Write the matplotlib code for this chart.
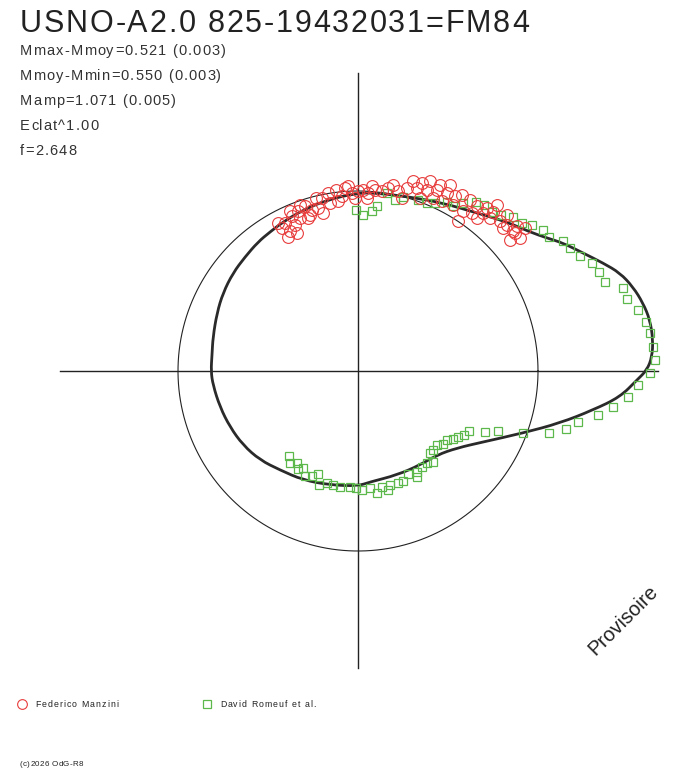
import matplotlib
matplotlib.use("Agg")
import matplotlib.pyplot as plt
import numpy as np
from matplotlib.path import Path
from matplotlib.patches import PathPatch
from matplotlib.font_manager import FontProperties, findfont, get_font

# ---- data (offsets from plot centre, unit circle radius = 180) ----
title = "USNO-A2.0 825-19432031=FM84"
stats = ["Mmax-Mmoy=0.521 (0.003)", "Mmoy-Mmin=0.550 (0.003)",
         "Mamp=1.071 (0.005)", "Eclat^1.00", "f=2.648"]
legend_labels = ["Federico Manzini", "David Romeuf et al."]
copyright_text = "(c)2026 OdG-R8"
stamp = "Provisoire"
ref_radius = 180

curve_x = [-1, 19, 52, 85, 119, 149, 172, 189, 205, 225, 245, 262, 275, 285, 292, 295,
           294, 289, 279, 262, 235, 202, 165, 125, 99, 79, 62, 39, 12, 0, -28, -55, -78,
           -98, -115, -128, -138, -145, -147, -146, -145, -141, -135, -125, -113, -100,
           -88, -75, -55, -31]
curve_y = [178, 178, 174, 168, 158, 149, 139, 133, 128, 118, 108, 98, 84, 68, 51, 31,
           14, 1, -9, -26, -39, -52, -62, -71, -77, -84, -94, -104, -111, -115, -114,
           -109, -99, -89, -74, -56, -36, -14, 0, 16, 34, 58, 78, 98, 114, 129, 139, 149,
           161, 171]

red_x = [-76, -68, -73, -63, -60, -53, -46, -40, -36, -30, -28, -20, -13, -6, 0, 5, 10,
         17, 24, 35, 40, 44, -68, -50, -58, -16, -3, 9, -35, -80, -70, -61, -48,
         49, 59, 69, 79, 89, 62, 75, 84, 95, 104, 105, 114, 119, 125, 139, 132, 142,
         149, 145, 155, 162, 159, 149, 100, 72, 55, 92, 119, 129, 167,
         14, 30, -10, -22, -42, -58, -66, 112, 97, 82, 64, 157, 152, 135]
red_y = [143, 140, 148, 146, 160, 165, 161, 163, 173, 178, 168, 170, 183, 178, 180, 181,
         178, 181, 180, 186, 180, 173, 160, 153, 153, 175, 173, 173, 158, 148, 134, 138,
         156, 183, 183, 181, 181, 178, 173, 173, 170, 166, 176, 160, 158, 165, 158, 166,
         153, 150, 156, 143, 140, 133, 145, 146, 150, 190, 190, 186, 153, 163, 143,
         185, 183, 185, 181, 173, 166, 155, 171, 175, 186, 188, 138, 131, 159]

green_x = [-2, 5, 14, 19, 29, 37, 45, 60, 69, 77, 89, 95, 105, 118, 126, 134, 143, 155,
           164, 174, 185, 191, 205, 212, 222, 234, 241, 247, 265, 269, 280, 288, 292,
           295, 297, 292, 280, 270, 255, 240, 220, 208, 191, 165, 140, 127, 111, 106,
           100, 95, 89, 85, 79, 75, 72, 75, 69, 64, 59, 59, 50, 45, 40, 32, 30, 24, 19,
           12, 4, -2, -8, -18, -25, -31, -39, -40, -46, -53, -55, -60, -61, -68, -69]
green_y = [161, 156, 160, 165, 178, 171, 174, 171, 168, 168, 169, 165, 168, 169, 166,
           159, 156, 154, 148, 146, 141, 134, 130, 123, 115, 108, 99, 89, 83, 72, 61, 49,
           38, 24, 11, -2, -14, -26, -36, -44, -51, -58, -62, -62, -60, -61, -60, -64,
           -66, -68, -69, -73, -74, -79, -82, -91, -92, -96, -101, -106, -103, -110,
           -112, -114, -119, -116, -122, -117, -119, -117, -116, -116, -114, -112, -114,
           -103, -105, -105, -97, -98, -92, -92, -85]

W, H, DPI = 688, 768, 100
fig = plt.figure(figsize=(W / DPI, H / DPI), dpi=DPI)
fig.patch.set_facecolor("white")
ax = fig.add_axes([0, 0, 1, 1])
ax.set_xlim(-358, 330)
ax.set_ylim(-397, 371)
ax.axis("off")

# axes cross and reference circle
ax.plot([-298, 300], [0, 0], color="#222222", lw=1.0)
ax.plot([0, 0], [-297, 298], color="#222222", lw=1.0)
t = np.linspace(0, 2 * np.pi, 400)
ax.plot(ref_radius * np.cos(t), ref_radius * np.sin(t), color="#222222", lw=0.8)

# fitted curve: read points used as control points of a closed quadratic path
P = np.column_stack([curve_x, curve_y]).astype(float)
n = len(P)
verts = [(P[0] + P[1]) / 2]
codes = [Path.MOVETO]
for i in range(1, n + 1):
    c = P[i % n]
    e = (P[i % n] + P[(i + 1) % n]) / 2
    verts += [c, e]
    codes += [Path.CURVE3, Path.CURVE3]
ax.add_patch(PathPatch(Path(verts, codes), fill=False, ec="#2a2a2a", lw=2.0, zorder=3))

# observations
ax.plot(green_x, green_y, ls="none", marker="s", ms=6.2, mfc="none",
        mec="#5cb84a", mew=0.9, zorder=4)
ax.plot(red_x, red_y, ls="none", marker="o", ms=8.5, mfc="none",
        mec="#e83c3c", mew=0.8, zorder=5)

FAM = ["Liberation Sans", "DejaVu Sans"]


def spaced_text(x_px, y_px, s, size, spacing, color="#222222"):
    fp = FontProperties(family=FAM, size=size)
    font = get_font(findfont(fp))
    font.set_size(size, DPI)
    x = x_px
    for ch in s:
        fig.text(x / W, 1 - y_px / H, ch, fontproperties=fp, color=color,
                 ha="left", va="baseline")
        g = font.load_char(ord(ch))
        x += g.linearHoriAdvance / 65536 + spacing


spaced_text(20, 32, title, 22, 1.8)
for i, s in enumerate(stats):
    spaced_text(20, 55 + 25 * i, s, 10.5, 1.15, color="#333333")

# legend
fig.lines.append(plt.Line2D([22 / W], [1 - 704 / H], transform=fig.transFigure,
                            ls="none", marker="o", ms=7, mfc="none", mec="#e83c3c", mew=0.8))
spaced_text(35, 707, legend_labels[0], 6.3, 1.1)
fig.lines.append(plt.Line2D([207 / W], [1 - 704 / H], transform=fig.transFigure,
                            ls="none", marker="s", ms=5.5, mfc="none", mec="#5cb84a", mew=0.9))
spaced_text(220, 707, legend_labels[1], 6.3, 1.05)

spaced_text(20, 766, copyright_text, 5.8, 0.3)

fig.text(623 / W, 1 - 620 / H, stamp, fontsize=14.5, family=FAM,
         rotation=45, va="center", ha="center", color="#222222",
         rotation_mode="anchor")

fig.savefig("out.png", dpi=DPI, facecolor="white")
